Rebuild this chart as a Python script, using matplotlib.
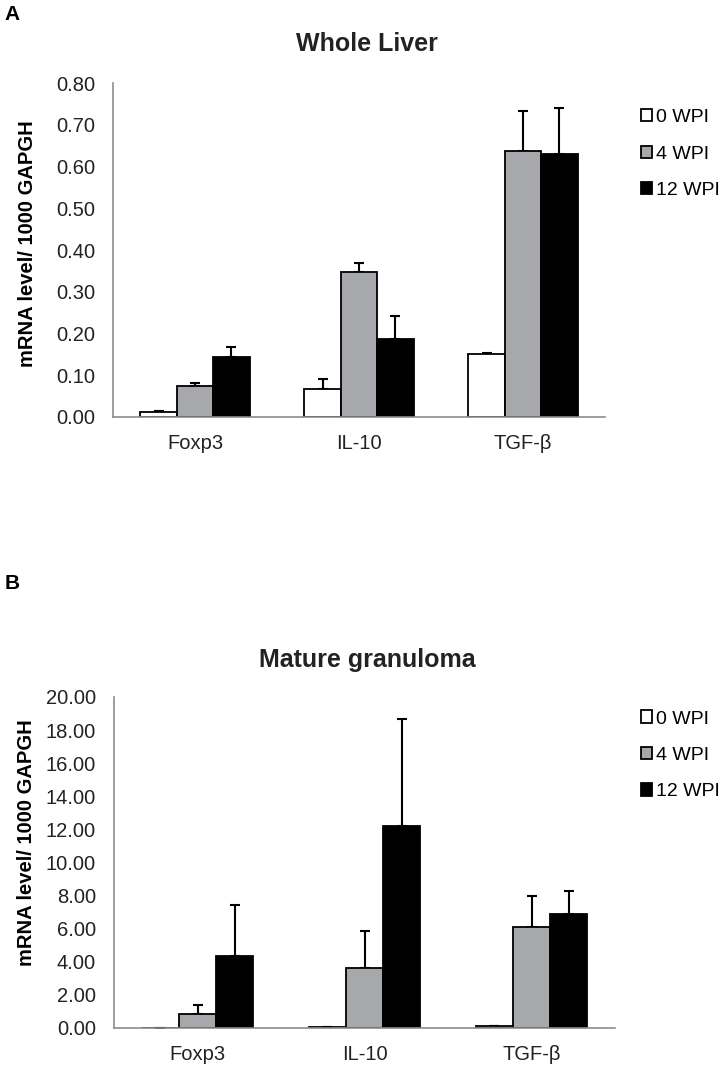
import numpy as np
from matplotlib import pyplot as plt

plt.rcParams['font.family'] = ['Liberation Sans', 'DejaVu Sans']

genes = ['Foxp3', 'IL-10', 'TGF-\u03b2']
groups = ['0 WPI', '4 WPI', '12 WPI']

# Whole liver: mean and upper error (SEM)
liver_mean = {
    '0 WPI': [0.011, 0.067, 0.151],
    '4 WPI': [0.074, 0.347, 0.638],
    '12 WPI': [0.143, 0.187, 0.629],
}
liver_err = {
    '0 WPI': [0.004, 0.023, 0.003],
    '4 WPI': [0.007, 0.022, 0.094],
    '12 WPI': [0.025, 0.056, 0.112],
}

# Mature granuloma
gran_mean = {
    '0 WPI': [0.02, 0.06, 0.12],
    '4 WPI': [0.87, 3.63, 6.08],
    '12 WPI': [4.33, 12.23, 6.89],
}
gran_err = {
    '0 WPI': [0.0, 0.0, 0.0],
    '4 WPI': [0.50, 2.25, 1.92],
    '12 WPI': [3.08, 6.46, 1.41],
}

colors = {'0 WPI': 'white', '4 WPI': '#a7a8ab', '12 WPI': 'black'}
spine_col = '#8c8c8c'


def panel(ax, means, errs, ymax, step, legend_y, ylab_x, ylab_y):
    x = np.arange(len(genes))
    w = 1 / 4.5
    for i, g in enumerate(groups):
        pos = x + (i - 1) * w
        ax.bar(pos, means[g], w, color=colors[g], edgecolor='black',
               linewidth=1.3, label=g, zorder=2)
        ax.errorbar(pos, means[g], yerr=[np.zeros(3), errs[g]], fmt='none',
                    ecolor='black', elinewidth=1.5, capsize=3.7, capthick=1.5, zorder=1)
    ax.set_xlim(-0.5, 2.5)
    ax.set_ylim(0, ymax)
    ax.set_yticks(np.arange(0, ymax + step / 2, step))
    ax.yaxis.set_major_formatter(plt.FormatStrFormatter('%.2f'))
    ax.set_xticks(x)
    ax.set_xticklabels(genes)
    ax.tick_params(axis='both', length=0, labelsize=14.5, colors='#222222')
    ax.tick_params(axis='y', pad=13)
    ax.tick_params(axis='x', pad=12)
    for s in ['top', 'right']:
        ax.spines[s].set_visible(False)
    for s in ['left', 'bottom']:
        ax.spines[s].set_color(spine_col)
        ax.spines[s].set_linewidth(1.2)
    ax.set_ylabel('mRNA level/ 1000 GAPGH', fontsize=14.5, fontweight='bold')
    ax.yaxis.set_label_coords(ylab_x, ylab_y)
    ax.legend(loc='upper left', bbox_to_anchor=(0.88, legend_y),
              bbox_transform=fig.transFigure, frameon=False,
              fontsize=14, handlelength=0.6, handleheight=0.6, handletextpad=0.2,
              labelspacing=1.0, borderaxespad=0, borderpad=0)


fig = plt.figure(figsize=(7.28, 10.70), dpi=100)
ax1 = fig.add_axes([0.1552, 0.6103, 0.6758, 0.3121])
ax2 = fig.add_axes([0.1566, 0.0393, 0.6882, 0.3093])

panel(ax1, liver_mean, liver_err, 0.80, 0.10, 0.898, -0.155, 0.52)
panel(ax2, gran_mean, gran_err, 20.0, 2.0, 0.336, -0.156, 0.56)

fig.text(0.504, 0.959, 'Whole Liver', fontsize=18, fontweight='bold',
         ha='center', va='center', color='#222222')
fig.text(0.504, 0.383, 'Mature granuloma', fontsize=18, fontweight='bold',
         ha='center', va='center', color='#222222')

fig.text(0.006, 0.986, 'A', fontsize=15, fontweight='bold', va='center')
fig.text(0.006, 0.455, 'B', fontsize=15, fontweight='bold', va='center')

fig.savefig('out.png', dpi=100)
